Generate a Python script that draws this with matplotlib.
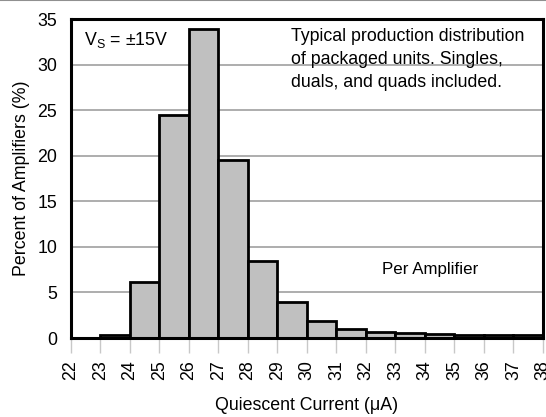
from matplotlib import pyplot as plt

plt.rcParams["font.family"] = ["Liberation Sans", "DejaVu Sans"]

# histogram data
bin_left = [23, 24, 25, 26, 27, 28, 29, 30, 31, 32, 33, 34, 35, 36, 37]
percent = [0.35, 6.2, 24.5, 33.9, 19.5, 8.4, 3.9, 1.9, 1.0, 0.7, 0.5, 0.42, 0.35, 0.3, 0.3]
xticks = list(range(22, 39))
yticks = [0, 5, 10, 15, 20, 25, 30, 35]

fs = 12.8

fig = plt.figure(figsize=(5.46, 4.17), dpi=100)
ax = fig.add_axes([0.130, 0.1894, 0.8645, 0.765])

ax.bar(bin_left, percent, width=1, align="edge", color="#c0c0c0",
       edgecolor="black", linewidth=2.0, zorder=3)

ax.set_xlim(22, 38)
ax.set_ylim(0, 35)
ax.set_yticks(yticks)
ax.set_xticks(xticks)
ax.set_xticklabels([str(t) for t in xticks], rotation=90, fontsize=fs)
ax.set_yticklabels([str(t) for t in yticks], fontsize=fs)
ax.tick_params(axis="y", length=0, pad=10)
ax.tick_params(axis="x", length=11, width=1, color="#c8c8c8", pad=5)
ax.yaxis.grid(True, color="#a0a0a0", linewidth=1.2, zorder=0)
for s in ax.spines.values():
    s.set_linewidth(2.2)
    s.set_zorder(4)

ax.set_xlabel("Quiescent Current (\u03bcA)", fontsize=fs, labelpad=12)
ax.set_ylabel("Percent of Amplifiers (%)", fontsize=fs, labelpad=5)

ax.text(22.45, 31.6, "V$_\\mathregular{S}$ = \u00b115V", fontsize=fs, va="bottom")
ax.text(29.45, 34.0, "Typical production distribution\nof packaged units. Singles,\nduals, and quads included.",
        fontsize=fs, va="top", linespacing=1.45)
ax.text(32.55, 7.5, "Per Amplifier", fontsize=12.2, va="center", zorder=5)

fig.add_artist(plt.Line2D([0, 1], [0.999, 0.999], color="#909090", linewidth=1.5))

plt.savefig("out.png", dpi=100)
